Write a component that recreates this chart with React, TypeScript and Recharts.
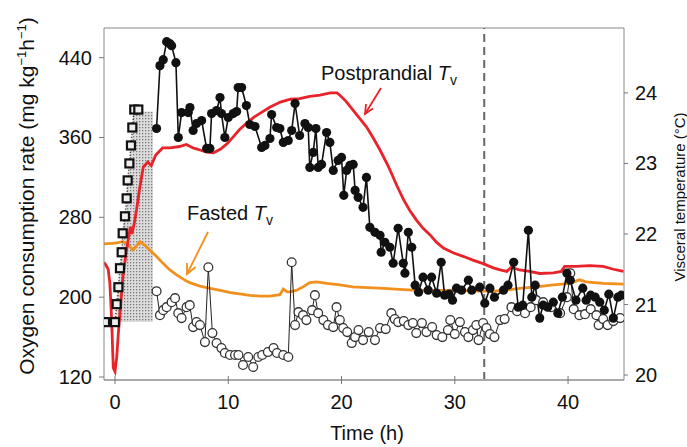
import React from "react"
import { ComposedChart, Line, Area, XAxis, YAxis, ReferenceLine } from "recharts"

// O2 consumption, postprandial (filled circles) [time h, mg kg-1 h-1]
const fedO2: [number, number][] = [
  [3.67, 369], [3.97, 432], [4.26, 438], [4.56, 456], [4.85, 454], [5.0, 452], [5.38, 435],
  [5.59, 360], [5.88, 385], [6.47, 385], [6.62, 390], [6.9, 367], [7.2, 374], [7.65, 377],
  [8.09, 349], [8.38, 349], [8.53, 384], [8.97, 387], [9.27, 400], [9.4, 384], [9.7, 360],
  [10.0, 380], [10.44, 384], [10.74, 386], [10.88, 410], [11.18, 410], [11.6, 392], [11.9, 373],
  [12.36, 371], [12.95, 350], [13.24, 352], [13.68, 359], [13.83, 383], [14.27, 370], [14.56, 369],
  [14.86, 355], [15.3, 357], [15.6, 367], [15.9, 394], [16.3, 362], [16.77, 374], [17.06, 370],
  [17.2, 330], [17.5, 345], [17.74, 369], [17.94, 330], [18.24, 333], [18.68, 365], [18.97, 355],
  [19.27, 327], [19.7, 337], [20.0, 340], [20.2, 302], [20.45, 327], [20.74, 332], [21.03, 333],
  [21.2, 307], [21.47, 300], [21.9, 290], [22.2, 320], [22.5, 270], [22.95, 265], [23.4, 262],
  [23.5, 245], [23.83, 255], [24.27, 250], [24.56, 234], [25.0, 269], [25.45, 234], [25.6, 224],
  [25.9, 265], [26.2, 250], [26.5, 212], [26.8, 205], [27.2, 220], [27.65, 207], [27.95, 220],
  [28.4, 204], [28.8, 235], [29.1, 202], [29.5, 203], [29.8, 197], [30.15, 209], [30.6, 207],
  [31.2, 217], [31.5, 207], [32.2, 210], [32.65, 194], [33.1, 209], [33.5, 200], [34.3, 207],
  [34.7, 212], [35.2, 235], [35.6, 190], [36.0, 192], [36.5, 267], [36.8, 200], [37.1, 212],
  [37.5, 179], [37.8, 192], [38.2, 190], [38.7, 195], [39.1, 184], [39.5, 200], [39.9, 224],
  [40.2, 217], [40.7, 197], [41.3, 209], [41.6, 197], [42.0, 202], [42.4, 200], [42.8, 195],
  [43.2, 187], [43.6, 203], [44.0, 179], [44.4, 200], [44.7, 202],
]

// O2 consumption, fasted (open circles)
const fastO2: [number, number][] = [
  [3.67, 206], [3.97, 182], [4.26, 187], [4.56, 190], [5.0, 195], [5.3, 199], [5.59, 184],
  [5.88, 179], [6.32, 190], [6.6, 192], [6.9, 170], [7.2, 175], [7.5, 172], [7.94, 155],
  [8.24, 230], [8.6, 164], [8.97, 154], [9.4, 149], [9.7, 144], [10.15, 142], [10.6, 142],
  [10.9, 142], [11.3, 132], [11.76, 140], [12.2, 130], [12.65, 140], [13.0, 142], [13.5, 145],
  [14.0, 149], [14.3, 144], [14.86, 142], [15.3, 140], [15.6, 235], [15.9, 172], [16.2, 185],
  [16.6, 182], [16.9, 177], [17.4, 187], [17.65, 202], [17.94, 184], [18.4, 177], [18.8, 172],
  [19.27, 170], [19.56, 190], [19.85, 177], [20.15, 169], [20.5, 165], [20.9, 154], [21.2, 160],
  [21.5, 167], [21.9, 157], [22.4, 165], [22.95, 157], [23.4, 169], [23.9, 168], [24.4, 184],
  [24.7, 178], [25.0, 175], [25.5, 176], [25.9, 172], [26.3, 174], [26.6, 164], [27.1, 174],
  [27.5, 165], [28.0, 170], [28.4, 162], [28.9, 160], [29.4, 167], [29.6, 177], [30.0, 163],
  [30.45, 175], [30.9, 165], [31.2, 160], [31.6, 167], [31.9, 172], [32.1, 157], [32.5, 174],
  [32.8, 169], [33.1, 163], [33.5, 160], [34.0, 177], [34.4, 178], [35.0, 190], [35.5, 186],
  [36.2, 184], [36.7, 190], [37.2, 197], [37.8, 195], [38.5, 190], [39.3, 184], [39.9, 200],
  [40.2, 224], [40.5, 188], [41.0, 182], [41.5, 183], [42.0, 188], [42.5, 182], [42.7, 172],
  [43.1, 178], [43.5, 172], [44.0, 176], [44.6, 179],
]

// feeding period (open squares)
const feeding: [number, number][] = [
  [-0.88, 175], [0.0, 175], [0.15, 193], [0.3, 210], [0.44, 229], [0.59, 245], [0.68, 264],
  [0.88, 281], [1.03, 299], [1.12, 317], [1.27, 334], [1.41, 352], [1.53, 370], [1.7, 388], [2.06, 388],
]

// stippled block under the feeding curve
const stipple: [number, number][] = [
  [0.0, 175], [0.15, 193], [0.3, 210], [0.44, 229], [0.59, 245], [0.68, 264], [0.88, 281],
  [1.03, 299], [1.12, 317], [1.27, 334], [1.41, 352], [1.53, 370], [1.62, 386], [3.35, 386],
]

// visceral temperature (°C)
const fedTv: [number, number][] = [
  [-0.97, 21.6], [-0.8, 21.56], [-0.6, 21.5], [-0.45, 21.3], [-0.3, 20.8], [-0.15, 20.1],
  [0.0, 20.05], [0.15, 20.25], [0.3, 20.6], [0.5, 21.0], [0.7, 21.4], [1.0, 21.75], [1.2, 21.95],
  [1.35, 22.1], [1.5, 22.0], [1.7, 22.15], [1.9, 22.34], [2.2, 22.67], [2.5, 22.95], [2.9, 23.02],
  [3.2, 22.97], [3.6, 23.12], [4.2, 23.22], [4.85, 23.22], [5.7, 23.24], [6.3, 23.27], [6.9, 23.22],
  [7.5, 23.19], [8.1, 23.16], [8.7, 23.15], [9.3, 23.2], [9.9, 23.28], [10.4, 23.37], [11.0, 23.48],
  [11.6, 23.57], [12.3, 23.66], [12.8, 23.71], [13.7, 23.8], [14.6, 23.87], [15.5, 23.91],
  [16.3, 23.92], [17.2, 23.95], [18.1, 23.97], [19.0, 24.0], [19.6, 24.0], [19.9, 23.96],
  [20.4, 23.88], [21.0, 23.76], [21.6, 23.64], [22.2, 23.52], [22.8, 23.36], [23.4, 23.19],
  [24.0, 23.0], [24.3, 22.9], [24.9, 22.68], [25.5, 22.48], [26.0, 22.34], [26.6, 22.2],
  [27.2, 22.08], [27.8, 21.99], [28.4, 21.88], [29.0, 21.8], [29.9, 21.73], [30.8, 21.68],
  [31.6, 21.63], [32.5, 21.58], [33.4, 21.52], [34.0, 21.49], [34.6, 21.47], [35.0, 21.53],
  [35.7, 21.49], [36.6, 21.47], [37.5, 21.44], [38.7, 21.45], [39.4, 21.47], [39.7, 21.54],
  [40.7, 21.54], [41.9, 21.55], [43.1, 21.54], [44.0, 21.5], [44.9, 21.47],
]

const fastTv: [number, number][] = [
  [-0.97, 21.86], [0.0, 21.87], [0.7, 21.89], [1.1, 21.86], [1.6, 21.77], [2.2, 21.89],
  [2.65, 21.84], [3.1, 21.77], [3.67, 21.68], [4.26, 21.58], [4.85, 21.49], [5.44, 21.42],
  [6.03, 21.36], [6.6, 21.31], [7.5, 21.26], [8.4, 21.23], [9.3, 21.2], [10.2, 21.17], [11.0, 21.15],
  [11.9, 21.13], [12.8, 21.12], [13.7, 21.12], [14.56, 21.14], [14.86, 21.22], [15.2, 21.18],
  [15.45, 21.18], [16.0, 21.2], [16.6, 21.25], [17.2, 21.31], [17.8, 21.32], [18.7, 21.3],
  [19.85, 21.28], [21.0, 21.25], [23.7, 21.23], [26.6, 21.2], [29.6, 21.2], [32.5, 21.19],
  [33.5, 21.19], [34.3, 21.2], [35.7, 21.23], [37.2, 21.25], [38.7, 21.28], [40.2, 21.3],
  [41.0, 21.35], [41.6, 21.32], [43.1, 21.3], [44.9, 21.29],
]

const xTicks = [0, 10, 20, 30, 40]
const o2Ticks = [120, 200, 280, 360, 440]
const tvTicks = [20, 21, 22, 23, 24]
const fastedEnd = 32.6

const pts = (a: [number, number][]) => a.map(([t, v]) => ({ t, v }))

const FONT = "'Liberation Sans', Arial, Helvetica, sans-serif"
const RED = "#e8232a"
const ORANGE = "#f2901e"

const XTick = ({ x, y, payload }: any) => (
  <g>
    <line x1={x} x2={x} y1={y - 4} y2={y + 4} stroke="#777" />
    <text x={x} y={y + 29} textAnchor="middle" fontSize={20} fill="#111" fontFamily={FONT}>{payload.value}</text>
  </g>
)

const LeftTick = ({ x, y, payload }: any) => (
  <g>
    <line x1={x - 5} x2={x} y1={y} y2={y} stroke="#777" />
    <text x={x - 12} y={y + 7} textAnchor="end" fontSize={20} fill="#111" fontFamily={FONT}>{payload.value}</text>
  </g>
)

const RightTick = ({ x, y, payload }: any) => (
  <g>
    <line x1={x} x2={x + 4} y1={y} y2={y} stroke="#777" />
    <text x={x + 11} y={y + 7} textAnchor="start" fontSize={20} fill="#111" fontFamily={FONT}>{payload.value}</text>
  </g>
)

const FilledDot = (p: any) =>
  p.cx == null ? <g key={`f${p.index}`} /> : <circle key={`f${p.index}`} cx={p.cx} cy={p.cy} r={4.6} fill="#111" />

const OpenDot = (p: any) =>
  p.cx == null ? <g key={`o${p.index}`} /> : (
    <circle key={`o${p.index}`} cx={p.cx} cy={p.cy} r={4.4} fill="#fff" stroke="#333" strokeWidth={1.3} />
  )

const SquareDot = (p: any) =>
  p.cx == null ? <g key={`s${p.index}`} /> : (
    <rect key={`s${p.index}`} x={p.cx - 4} y={p.cy - 4} width={8} height={8} fill="#eee" stroke="#111" strokeWidth={2.2} />
  )

export default function App() {
  return (
    <div style={{ position: "absolute", left: 0, top: 0, width: 687, height: 447, background: "#fff", fontFamily: FONT }}>
      <ComposedChart width={687} height={447} margin={{ top: 28, right: 23, bottom: 37, left: 44 }}>
        <defs>
          <pattern id="stip" width="3" height="3" patternUnits="userSpaceOnUse">
            <rect width="3" height="3" fill="#dcdcdc" />
            <rect x="1" y="1" width="1.3" height="1.3" fill="#7a7a7a" />
          </pattern>
        </defs>
        <XAxis
          dataKey="t"
          type="number"
          domain={[-0.97, 44.94]}
          allowDataOverflow
          ticks={xTicks}
          height={30}
          tickSize={0}
          tickMargin={0}
          tickLine={false}
          tick={<XTick />}
          axisLine={{ stroke: "#aaa", strokeWidth: 2 }}
        />
        <YAxis
          yAxisId="o2"
          type="number"
          domain={[117, 469.7]}
          allowDataOverflow
          ticks={o2Ticks}
          width={60}
          tickSize={0}
          tickMargin={0}
          tickLine={false}
          tick={<LeftTick />}
          axisLine={{ stroke: "#888" }}
        />
        <YAxis
          yAxisId="tv"
          orientation="right"
          type="number"
          domain={[19.93, 24.92]}
          allowDataOverflow
          ticks={tvTicks}
          width={40}
          tickSize={0}
          tickMargin={0}
          tickLine={false}
          tick={<RightTick />}
          axisLine={{ stroke: "#888" }}
        />
        <ReferenceLine yAxisId="o2" y={469.7} stroke="#888" />
        <Area
          yAxisId="o2"
          data={pts(stipple)}
          dataKey="v"
          baseValue={175}
          type="linear"
          stroke="none"
          fill="url(#stip)"
          fillOpacity={1}
          isAnimationActive={false}
        />
        <ReferenceLine yAxisId="o2" x={fastedEnd} stroke="#666" strokeWidth={2} strokeDasharray="8 5" />
        <Line
          yAxisId="tv"
          data={pts(fastTv)}
          dataKey="v"
          type="linear"
          stroke={ORANGE}
          strokeWidth={2.8}
          dot={false}
          activeDot={false}
          isAnimationActive={false}
        />
        <Line
          yAxisId="tv"
          data={pts(fedTv)}
          dataKey="v"
          type="linear"
          stroke={RED}
          strokeWidth={2.8}
          dot={false}
          activeDot={false}
          isAnimationActive={false}
        />
        <Line
          yAxisId="o2"
          data={pts(fastO2)}
          dataKey="v"
          type="linear"
          stroke="#222"
          strokeWidth={1}
          dot={OpenDot}
          activeDot={false}
          isAnimationActive={false}
        />
        <Line
          yAxisId="o2"
          data={pts(fedO2)}
          dataKey="v"
          type="linear"
          stroke="#111"
          strokeWidth={1.6}
          dot={FilledDot}
          activeDot={false}
          isAnimationActive={false}
        />
        <Line
          yAxisId="o2"
          data={pts(feeding)}
          dataKey="v"
          type="linear"
          stroke="#333"
          strokeWidth={1.5}
          strokeDasharray="1 2"
          dot={SquareDot}
          activeDot={false}
          isAnimationActive={false}
        />
        {/* annotations */}
        <text x={321} y={80} fontSize={20} fill="#111" fontFamily={FONT}>
          Postprandial{" "}
          <tspan fontStyle="italic">T</tspan>
          <tspan dy={5} fontSize={14}>v</tspan>
        </text>
        <polyline points="381,88 365,114" fill="none" stroke={RED} strokeWidth={1.8} />
        <polyline points="366,104 365,114 373,108.5" fill="none" stroke={RED} strokeWidth={1.8} />
        <text x={187} y={220} fontSize={20} fill="#111" fontFamily={FONT}>
          Fasted{" "}
          <tspan fontStyle="italic">T</tspan>
          <tspan dy={5} fontSize={14}>v</tspan>
        </text>
        <polyline points="208,232 187,274" fill="none" stroke={ORANGE} strokeWidth={1.8} />
        <polyline points="187,263 187,274 195.6,267" fill="none" stroke={ORANGE} strokeWidth={1.8} />
        {/* axis titles */}
        <text x={34} y={196} transform="rotate(-90 34 196)" textAnchor="middle" fontSize={21} fill="#111" fontFamily={FONT}>
          Oxygen consumption rate (mg kg
          <tspan dy={-8} fontSize={13}>−1</tspan>
          <tspan dy={8}>h</tspan>
          <tspan dy={-8} fontSize={13}>−1</tspan>
          <tspan dy={8}>)</tspan>
        </text>
        <text x={685} y={197} transform="rotate(-90 685 197)" textAnchor="middle" fontSize={15} fill="#111" fontFamily={FONT}>
          Visceral temperature (°C)
        </text>
        <text x={367} y={440} textAnchor="middle" fontSize={20} fill="#111" fontFamily={FONT}>
          Time (h)
        </text>
      </ComposedChart>
    </div>
  )
}
